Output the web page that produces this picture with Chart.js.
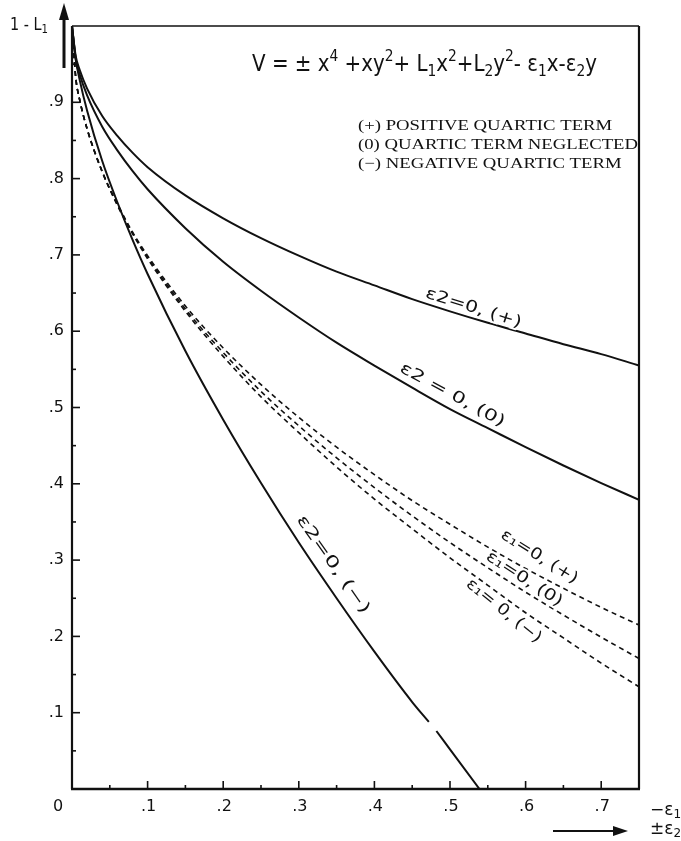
<!DOCTYPE html>
<html>
<head>
<meta charset="utf-8">
<script src="https://cdn.jsdelivr.net/npm/chart.js@4.4.1/dist/chart.umd.min.js"></script>
<style>
  html, body { margin: 0; padding: 0; background: #fff; }
  #wrap { width: 681px; height: 841px; }
</style>
</head>
<body>
<div id="wrap"><canvas id="chart" width="681" height="841"></canvas></div>
<script>
        // x positions (-eps1 or +-eps2) shared by most curves
        const xs = [0, 0.005, 0.01, 0.02, 0.04, 0.06, 0.08, 0.1, 0.15, 0.2, 0.25, 0.3, 0.35, 0.4, 0.45, 0.5, 0.55, 0.6, 0.65, 0.7, 0.75];

        // eps2 = 0 curves (solid)
        const e2Plus = [1, 0.96, 0.943, 0.918, 0.882, 0.856, 0.834, 0.815, 0.778, 0.748, 0.722, 0.699, 0.678, 0.66, 0.642, 0.626, 0.611, 0.597, 0.583, 0.57, 0.555];
        const e2Zero = [1, 0.956, 0.937, 0.909, 0.868, 0.837, 0.81, 0.786, 0.735, 0.691, 0.653, 0.618, 0.585, 0.555, 0.526, 0.498, 0.473, 0.448, 0.424, 0.401, 0.379];
        // negative quartic term: runs down to the axis, with a small break near .47
        const xsMinus = [0, 0.005, 0.01, 0.02, 0.04, 0.06, 0.08, 0.1, 0.15, 0.2, 0.25, 0.3, 0.35, 0.4, 0.45, 0.472, 0.477, 0.482, 0.5, 0.539];
        const e2Minus = [1, 0.956, 0.93, 0.889, 0.823, 0.769, 0.72, 0.675, 0.574, 0.484, 0.401, 0.323, 0.25, 0.18, 0.114, 0.088, null, 0.076, 0.052, 0];

        // eps1 = 0 curves (dashed)
        const e1Plus = [1, 0.932, 0.904, 0.865, 0.809, 0.767, 0.73, 0.699, 0.633, 0.578, 0.53, 0.487, 0.448, 0.412, 0.378, 0.347, 0.317, 0.289, 0.263, 0.238, 0.215];
        const e1Zero = [1, 0.932, 0.904, 0.865, 0.809, 0.766, 0.729, 0.697, 0.629, 0.572, 0.521, 0.476, 0.434, 0.395, 0.358, 0.323, 0.29, 0.258, 0.228, 0.199, 0.171];
        const e1Minus = [1, 0.932, 0.904, 0.865, 0.809, 0.765, 0.728, 0.695, 0.626, 0.567, 0.514, 0.467, 0.422, 0.38, 0.341, 0.303, 0.267, 0.231, 0.198, 0.165, 0.134];

        const xTickLabels = ['0', '.1', '.2', '.3', '.4', '.5', '.6', '.7'];
        const yTickLabels = ['.1', '.2', '.3', '.4', '.5', '.6', '.7', '.8', '.9'];
        const legendLines = ['(+) POSITIVE QUARTIC TERM', '(0) QUARTIC TERM NEGLECTED', '(\u2212) NEGATIVE QUARTIC TERM'];

        // curve labels: text, anchor in data units, angle in degrees, target length px
        const curveLabels = [
            { text: '\u03b52=0, (+)', x: 0.531, y: 0.630, angle: 17.5, len: 100 },
            { text: '\u03b52 = 0, (0)', x: 0.503, y: 0.516, angle: 28.5, len: 117 },
            { text: '\u03b52=0, (\u2212)', x: 0.345, y: 0.294, angle: 55, len: 116 },
            { text: '\u03b5\u2081=0, (+)', x: 0.618, y: 0.304, angle: 32, len: 88 },
            { text: '\u03b5\u2081=0, (0)', x: 0.598, y: 0.275, angle: 33, len: 88 },
            { text: '\u03b5\u2081= 0, (\u2212)', x: 0.571, y: 0.233, angle: 39, len: 92 }
        ];

        const pts = (xArr, yArr) => xArr.map((x, i) => ({ x: x, y: yArr[i] }));

        const FONT = '"DejaVu Sans", "Liberation Sans", sans-serif';
        const INK = '#111';

        function richText(ctx, parts, x, y, width, size) {
            // parts: [text, kind] with kind n / sup / sub
            const small = Math.round(size * 0.68);
            let total = 0;
            parts.forEach(p => {
                ctx.font = (p[1] === 'n' ? size : small) + 'px ' + FONT;
                total += ctx.measureText(p[0]).width;
            });
            const sx = width ? width / total : 1;
            ctx.save();
            ctx.translate(x, y);
            ctx.scale(sx, 1);
            let cx = 0;
            parts.forEach(p => {
                ctx.font = (p[1] === 'n' ? size : small) + 'px ' + FONT;
                let dy = 0;
                if (p[1] === 'sup') dy = -size * 0.42;
                if (p[1] === 'sub') dy = size * 0.2;
                ctx.fillText(p[0], cx, dy);
                cx += ctx.measureText(p[0]).width;
            });
            ctx.restore();
        }

        const decor = {
            id: 'decor',
            afterDraw(chart) {
                const ctx = chart.ctx;
                const xs_ = chart.scales.x, ys_ = chart.scales.y;
                const a = chart.chartArea;
                ctx.save();
                ctx.strokeStyle = INK;
                ctx.fillStyle = INK;
                ctx.lineCap = 'butt';

                // frame
                ctx.lineWidth = 2.2;
                ctx.beginPath(); ctx.moveTo(a.left, a.top); ctx.lineTo(a.left, a.bottom); ctx.stroke();
                ctx.lineWidth = 2.6;
                ctx.beginPath(); ctx.moveTo(a.left - 1, a.bottom); ctx.lineTo(a.right + 1, a.bottom); ctx.stroke();
                ctx.lineWidth = 2.2;
                ctx.beginPath(); ctx.moveTo(a.right, a.top); ctx.lineTo(a.right, a.bottom); ctx.stroke();
                ctx.lineWidth = 1.5;
                ctx.beginPath(); ctx.moveTo(a.left, a.top); ctx.lineTo(a.right, a.top); ctx.stroke();

                // inward ticks
                ctx.lineWidth = 1.6;
                for (let i = 1; i < 20; i++) {
                    const v = i * 0.05;
                    const py = ys_.getPixelForValue(v);
                    const len = i % 2 === 0 ? 8 : 4;
                    ctx.beginPath(); ctx.moveTo(a.left, py); ctx.lineTo(a.left + len, py); ctx.stroke();
                }
                for (let i = 1; i < 15; i++) {
                    const v = i * 0.05;
                    const px = xs_.getPixelForValue(v);
                    const len = i % 2 === 0 ? 8 : 4;
                    ctx.beginPath(); ctx.moveTo(px, a.bottom); ctx.lineTo(px, a.bottom - len); ctx.stroke();
                }

                // tick labels
                ctx.font = '16px ' + FONT;
                ctx.textBaseline = 'middle';
                ctx.textAlign = 'right';
                yTickLabels.forEach((t, i) => {
                    ctx.fillText(t, a.left - 8, ys_.getPixelForValue((i + 1) / 10));
                });
                ctx.textAlign = 'center';
                xTickLabels.forEach((t, i) => {
                    let px = xs_.getPixelForValue(i / 10);
                    if (i === 0) px -= 14; else px += 1;
                    ctx.fillText(t, px, a.bottom + 18);
                });

                // y axis arrow and label
                ctx.lineWidth = 3;
                ctx.beginPath(); ctx.moveTo(a.left - 8, a.top + 42); ctx.lineTo(a.left - 8, 16); ctx.stroke();
                ctx.beginPath();
                ctx.moveTo(a.left - 8, 3); ctx.lineTo(a.left - 13, 20); ctx.lineTo(a.left - 3, 20); ctx.closePath(); ctx.fill();
                ctx.textAlign = 'left';
                ctx.textBaseline = 'alphabetic';
                richText(ctx, [['1 - L', 'n'], ['1', 'sub']], 10, 30, 38, 17);

                // x axis label and arrow
                richText(ctx, [['\u2212\u03b5', 'n'], ['1', 'sub']], 650, 815, 0, 17);
                richText(ctx, [['\u00b1\u03b5', 'n'], ['2', 'sub']], 650, 834, 0, 17);
                ctx.lineWidth = 2;
                ctx.beginPath(); ctx.moveTo(553, 831); ctx.lineTo(616, 831); ctx.stroke();
                ctx.beginPath(); ctx.moveTo(628, 831); ctx.lineTo(613, 826); ctx.lineTo(613, 836); ctx.closePath(); ctx.fill();

                // potential formula
                richText(ctx, [
                    ['V = \u00b1 x', 'n'], ['4', 'sup'], [' +xy', 'n'], ['2', 'sup'], ['+ L', 'n'], ['1', 'sub'],
                    ['x', 'n'], ['2', 'sup'], ['+L', 'n'], ['2', 'sub'], ['y', 'n'], ['2', 'sup'],
                    ['- \u03b5', 'n'], ['1', 'sub'], ['x-\u03b5', 'n'], ['2', 'sub'], ['y', 'n']
                ], 252, 71, 345, 23);

                // legend block (serif, typewriter look)
                ctx.font = '15px "Liberation Serif", "DejaVu Serif", serif';
                const sx = 280 / ctx.measureText(legendLines[1]).width;
                legendLines.forEach((t, i) => {
                    ctx.save();
                    ctx.translate(358, 130 + i * 19);
                    ctx.scale(sx, 1);
                    ctx.fillText(t, 0, 0);
                    ctx.restore();
                });

                // labels along the curves
                ctx.font = '16px ' + FONT;
                ctx.textAlign = 'center';
                ctx.textBaseline = 'middle';
                curveLabels.forEach(l => {
                    const w = ctx.measureText(l.text).width;
                    ctx.save();
                    ctx.translate(xs_.getPixelForValue(l.x), ys_.getPixelForValue(l.y));
                    ctx.rotate(l.angle * Math.PI / 180);
                    ctx.scale(l.len / w, 1);
                    ctx.lineWidth = 4;
                    ctx.strokeStyle = '#fff';
                    ctx.strokeText(l.text, 0, 0);
                    ctx.fillText(l.text, 0, 0);
                    ctx.restore();
                });
                ctx.restore();
            }
        };

        const solid = { borderColor: INK, borderWidth: 2, pointRadius: 0, cubicInterpolationMode: 'monotone', spanGaps: false };
        const dashed = { borderColor: INK, borderWidth: 1.6, pointRadius: 0, cubicInterpolationMode: 'monotone', borderDash: [5, 4] };

        new Chart(document.getElementById('chart').getContext('2d'), {
            type: 'line',
            data: {
                datasets: [
                    Object.assign({ label: 'eps2=0 (+)', data: pts(xs, e2Plus) }, solid),
                    Object.assign({ label: 'eps2=0 (0)', data: pts(xs, e2Zero) }, solid),
                    Object.assign({ label: 'eps2=0 (-)', data: pts(xsMinus, e2Minus) }, solid),
                    Object.assign({ label: 'eps1=0 (+)', data: pts(xs, e1Plus) }, dashed),
                    Object.assign({ label: 'eps1=0 (0)', data: pts(xs, e1Zero) }, dashed),
                    Object.assign({ label: 'eps1=0 (-)', data: pts(xs, e1Minus) }, dashed)
                ]
            },
            options: {
                responsive: false,
                animation: false,
                devicePixelRatio: 1,
                layout: { padding: { left: 72, top: 26, right: 42, bottom: 52 } },
                plugins: { legend: { display: false }, tooltip: { enabled: false } },
                scales: {
                    x: { type: 'linear', min: 0, max: 0.75, display: false },
                    y: { type: 'linear', min: 0, max: 1, display: false }
                }
            },
            plugins: [decor]
        });
</script>
</body>
</html>
